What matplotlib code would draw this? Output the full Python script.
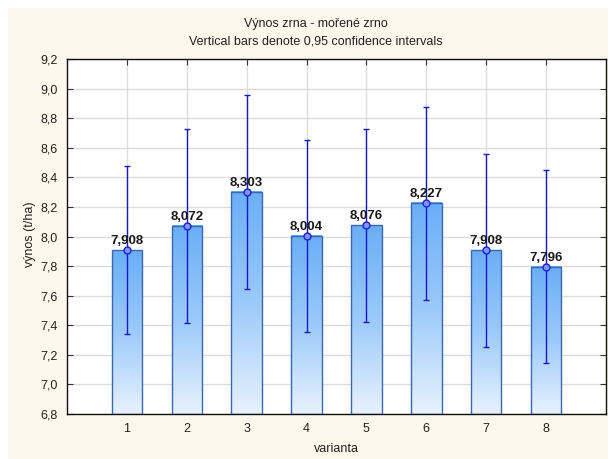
import matplotlib
matplotlib.use("Agg")
import matplotlib.pyplot as plt
import numpy as np
from matplotlib.ticker import FuncFormatter, MultipleLocator
from matplotlib.patches import Rectangle
from matplotlib.colors import LinearSegmentedColormap

plt.rcParams['font.family'] = ['Liberation Sans', 'DejaVu Sans']

categories = [1, 2, 3, 4, 5, 6, 7, 8]
means = [7.908, 8.072, 8.303, 8.004, 8.076, 8.227, 7.908, 7.796]
ci_low = [7.344, 7.416, 7.648, 7.351, 7.423, 7.572, 7.251, 7.144]
ci_high = [8.475, 8.729, 8.955, 8.655, 8.727, 8.878, 8.560, 8.450]
title_lines = ["Výnos zrna - mořené zrno", "Vertical bars denote 0,95 confidence intervals"]
xlabel = "varianta"
ylabel = "výnos (t/ha)"
ymin, ymax = 6.8, 9.2

fig = plt.figure(figsize=(6.08, 4.59), dpi=100)
fig.patch.set_facecolor('white')
fig.patches.append(Rectangle((8/608, 0), 600/608, 1 - 8/459, transform=fig.transFigure,
                             facecolor='#FDF8EC', edgecolor='none', zorder=-10))

ax = fig.add_axes([67/608, 1 - 414/459, 539/608, 355/459])
ax.set_zorder(1)
ax.set_facecolor('white')

x = np.array(categories, dtype=float)
m = np.array(means)
w = 0.51

grad = np.linspace(0, 1, 256).reshape(-1, 1)
cmap = LinearSegmentedColormap.from_list('g', ['#E8F2FE', '#9CCAFA', '#6AAEF7'])
for xi, mi in zip(x, m):
    ax.imshow(grad, extent=(xi - w/2, xi + w/2, ymin, mi), origin='lower',
              aspect='auto', cmap=cmap, zorder=2, interpolation='bilinear')
ax.bar(x, m - ymin, bottom=ymin, width=w, facecolor='none', edgecolor='#3A68AE',
       linewidth=1.0, zorder=3)
ax.set_xlim(0, 9)
ax.set_ylim(ymin, ymax)

lo = m - np.array(ci_low)
hi = np.array(ci_high) - m
ax.errorbar(x, m, yerr=[lo, hi], fmt='o', color='#1818C8', ecolor='#1818C8',
            elinewidth=1.0, capsize=2.3, capthick=1.0, markersize=5,
            markerfacecolor='#7C95F0', markeredgecolor='#2020D0', zorder=4)

for xi, mi in zip(x, m):
    ax.annotate(f"{mi:.3f}".replace('.', ','), (xi, mi), xytext=(0, 2),
                textcoords='offset points', ha='center', va='bottom',
                fontsize=9.5, fontweight='bold', color='#1a1a1a', zorder=5)

ax.set_xticks(x)
ax.set_xticklabels([str(c) for c in categories])
ax.yaxis.set_major_locator(MultipleLocator(0.2))
ax.yaxis.set_major_formatter(FuncFormatter(lambda v, p: f"{v:.1f}".replace('.', ',')))
ax.grid(True, color='#DCDCDC', linewidth=1.0, zorder=0)
ax.set_axisbelow(True)
ax.tick_params(direction='in', length=4, width=0.8, color='#333333',
               labelsize=9, labelcolor='#222222', top=True, right=True, pad=6.5)
for s in ax.spines.values():
    s.set_color('#111111')
    s.set_linewidth(1.0)

fig.text(316/608, 1 - 24/459, title_lines[0], ha='center', va='center', fontsize=9, color='#222222')
fig.text(316/608, 1 - 41/459, title_lines[1], ha='center', va='center', fontsize=9, color='#222222')
fig.text(336/608, 1 - 449/459, xlabel, ha='center', va='center', fontsize=9, color='#222222')
fig.text(30/608, 1 - 234/459, ylabel, ha='center', va='center', rotation=90, fontsize=9, color='#222222')

fig.savefig('out.png', dpi=100, facecolor=fig.get_facecolor())
